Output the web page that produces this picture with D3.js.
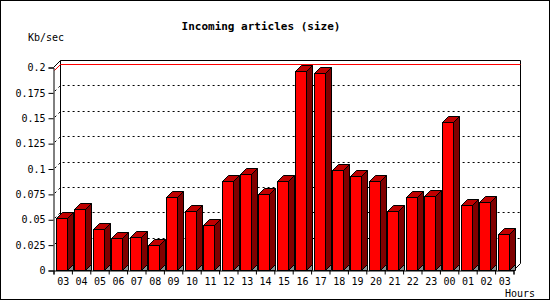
<!DOCTYPE html>
<html>
<head>
<meta charset="utf-8">
<script src="https://cdn.jsdelivr.net/npm/d3@7"></script>
<style>
  body { margin: 0; background: #fff; }
  text { font-family: "DejaVu Sans Mono", monospace; font-size: 10px; fill: #000; }
  .title { font-weight: bold; font-size: 11px; }
</style>
</head>
<body>
<div id="chart"></div>
<script>
var hours = ["03","04","05","06","07","08","09","10","11","12","13","14","15",
             "16","17","18","19","20","21","22","23","00","01","02","03"];
var kbps = [0.051, 0.060, 0.040, 0.032, 0.033, 0.025, 0.072, 0.058, 0.044, 0.088,
            0.095, 0.075, 0.088, 0.196, 0.194, 0.099, 0.093, 0.088, 0.058, 0.072,
            0.073, 0.146, 0.064, 0.067, 0.035];
var yTicks = [0, 0.025, 0.05, 0.075, 0.1, 0.125, 0.15, 0.175, 0.2];
var yTickLabels = ["0","0.025","0.05","0.075","0.1","0.125","0.15","0.175","0.2"];

var width = 550, height = 300;
var depth = 7, barDepth = 6, barWidth = 11;

var x = d3.scaleLinear().domain([0, hours.length]).range([53.5, 513.5]);
var y = d3.scaleLinear().domain([0, 0.2]).range([270.5, 67.5]);

var svg = d3.select("#chart").append("svg")
    .attr("width", width)
    .attr("height", height);

svg.append("rect")
    .attr("x", 0.5).attr("y", 0.5)
    .attr("width", width - 1).attr("height", height - 1)
    .attr("fill", "#fff").attr("stroke", "#000");

svg.append("text").attr("class", "title")
    .attr("x", 261).attr("y", 30).attr("text-anchor", "middle")
    .text("Incoming articles (size)");
svg.append("text").attr("x", 28).attr("y", 41).text("Kb/sec");
svg.append("text").attr("x", 535).attr("y", 297).attr("text-anchor", "end").text("Hours");

var x0 = x(0), x1 = x(hours.length), yTop = y(0.2), yBot = y(0);

// back wall
svg.append("path")
    .attr("d", "M" + (x0 + depth) + "," + (yBot - depth) + "V" + (yTop - depth) +
               "H" + (x1 + depth) + "V" + (yBot - depth))
    .attr("fill", "none").attr("stroke", "#000");

// grid lines, dotted
svg.selectAll("path.grid")
    .data(yTicks.filter(function(d) { return d > 0 && d < 0.2; }))
    .enter().append("path")
    .attr("class", "grid")
    .attr("d", function(d) {
      var yy = Math.round(y(d) - 0.5) + 0.5;
      return "M" + x0 + "," + yy + "L" + (x0 + depth) + "," + (yy - depth) + "H" + (x1 + depth);
    })
    .attr("fill", "none").attr("stroke", "#000")
    .attr("stroke-dasharray", "2,3").attr("stroke-dashoffset", -2);

// max line
var maxVal = d3.max(kbps);
var ym = Math.round(y(maxVal) - 0.5) + 0.5;
svg.append("path")
    .attr("d", "M" + (x0 + 1) + "," + (ym - 1) + "L" + (x0 + depth) + "," + (ym - depth) + "H" + (x1 + depth))
    .attr("fill", "none").attr("stroke", "#f00");

// edges joining front axes to the back wall
svg.append("path")
    .attr("d", "M" + x0 + "," + yTop + "L" + (x0 + depth) + "," + (yTop - depth) +
               "M" + x1 + "," + yBot + "L" + (x1 + depth) + "," + (yBot - depth))
    .attr("fill", "none").attr("stroke", "#000");

// bars
var bars = svg.selectAll("g.bar")
    .data(kbps)
    .enter().append("g")
    .attr("class", "bar");

function fx(d, i) { return Math.floor(x(i) + 3) + 0.5; }
function fy(d) { return Math.round(y(d) - 0.5) + 0.5; }

bars.append("path")
    .attr("fill", "#8c8c8c").attr("stroke", "#000")
    .attr("d", function(d, i) {
      var r = fx(d, i) + barWidth;
      return "M" + r + "," + yBot + "L" + (r + barDepth) + "," + (yBot - barDepth) + "V" + yBot + "Z";
    });

bars.append("path")
    .attr("fill", "#800000").attr("stroke", "#000")
    .attr("d", function(d, i) {
      var r = fx(d, i) + barWidth, t = fy(d);
      return "M" + r + "," + t + "L" + (r + barDepth) + "," + (t - barDepth) +
             "V" + (yBot - barDepth) + "L" + r + "," + yBot + "Z";
    });

bars.append("path")
    .attr("fill", "#c00000").attr("stroke", "#000")
    .attr("d", function(d, i) {
      var l = fx(d, i), t = fy(d);
      return "M" + l + "," + t + "L" + (l + barDepth) + "," + (t - barDepth) +
             "H" + (l + barWidth + barDepth) + "L" + (l + barWidth) + "," + t + "Z";
    });

bars.append("rect")
    .attr("fill", "#f00").attr("stroke", "#000")
    .attr("x", fx)
    .attr("y", function(d) { return fy(d); })
    .attr("width", barWidth)
    .attr("height", function(d) { return yBot - fy(d); });

// axes
var yAxis = svg.append("g")
    .attr("transform", "translate(" + x0 + ",0)")
    .call(d3.axisLeft(y)
      .tickValues(yTicks)
      .tickSize(5)
      .tickPadding(3)
      .tickFormat(function(d, i) { return yTickLabels[i]; }));

var xTicks = svg.append("g")
    .attr("transform", "translate(0," + yBot + ")")
    .call(d3.axisBottom(x)
      .tickValues(d3.range(0, hours.length + 1))
      .tickSize(4)
      .tickFormat(""));

var xLabels = svg.append("g")
    .attr("transform", "translate(0," + yBot + ")")
    .call(d3.axisBottom(x)
      .tickValues(hours.map(function(d, i) { return i + 0.5; }))
      .tickSize(0)
      .tickPadding(7)
      .tickFormat(function(d, i) { return hours[i]; }));
xLabels.select(".domain").remove();

svg.selectAll(".domain").attr("stroke", "#000");
svg.selectAll(".tick line").attr("stroke", "#000");
svg.selectAll(".tick text").attr("font-family", "DejaVu Sans Mono").attr("font-size", 10).attr("fill", "#000");
</script>
</body>
</html>
